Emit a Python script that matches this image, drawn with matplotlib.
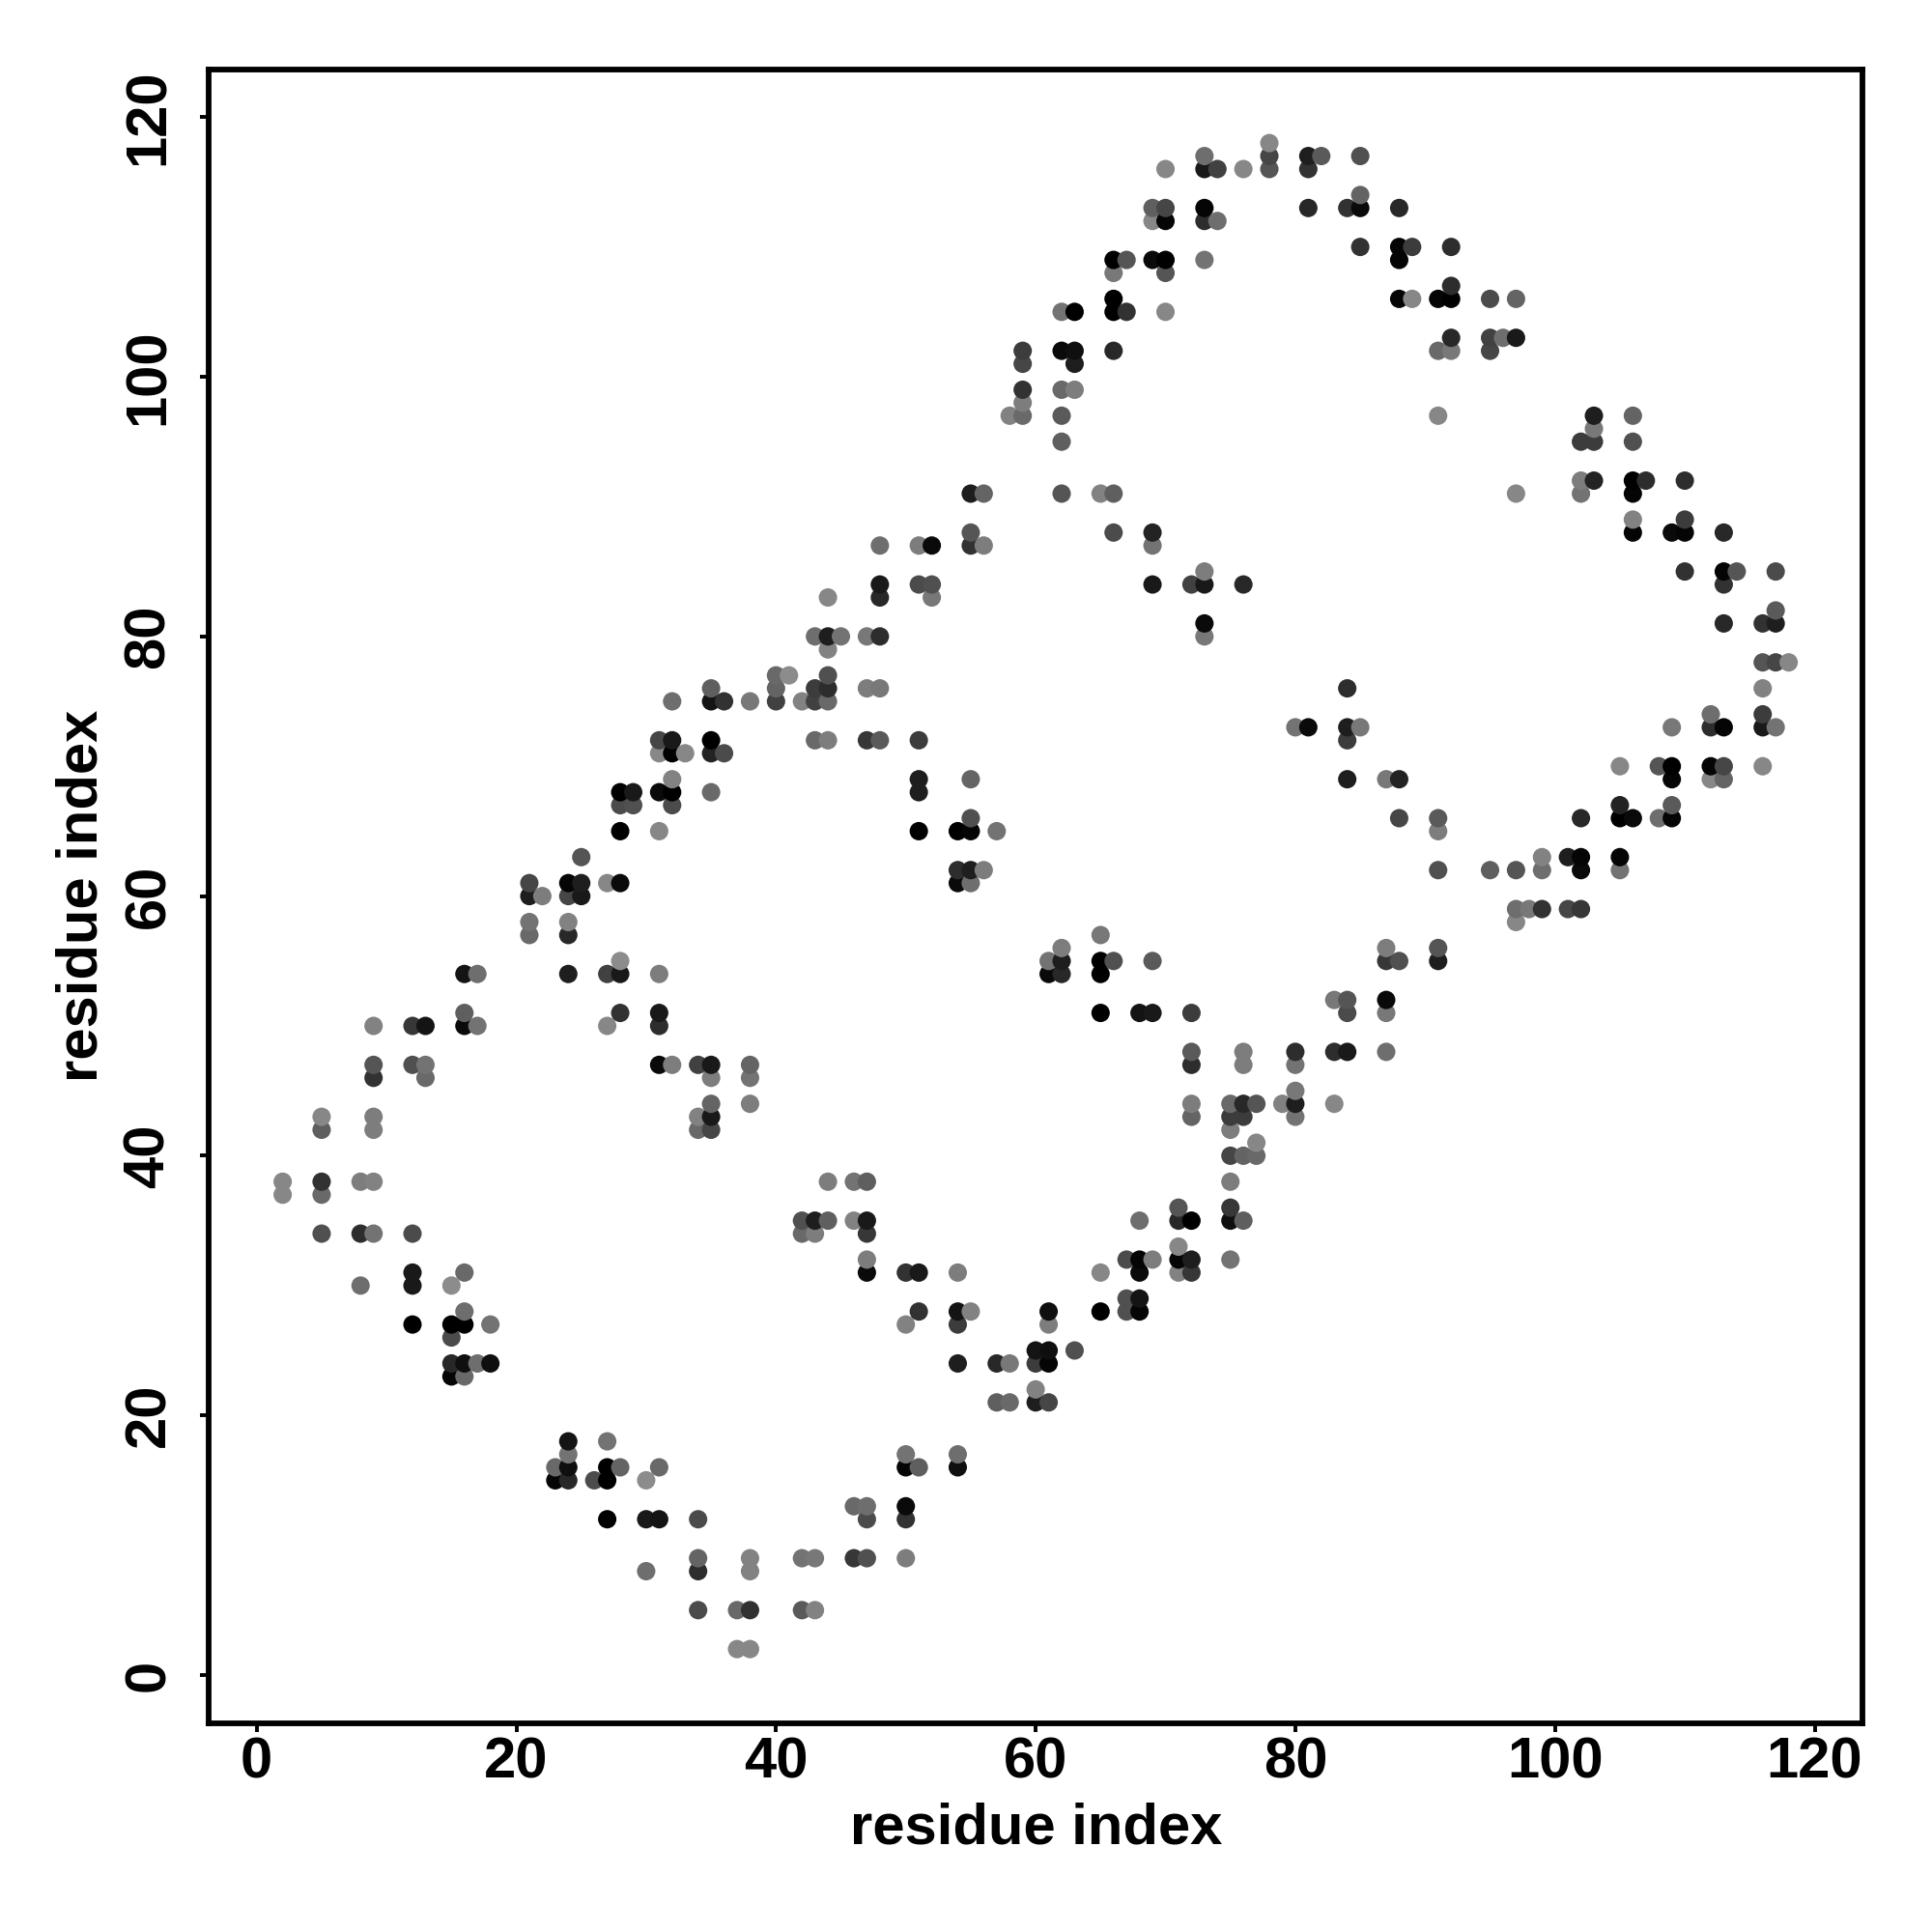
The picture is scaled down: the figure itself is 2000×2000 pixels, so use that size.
import itertools
import matplotlib
matplotlib.use('Agg')
import matplotlib.pyplot as plt
import numpy as np

plt.rcParams['font.family'] = ['Liberation Sans', 'DejaVu Sans']
plt.rcParams['font.weight'] = 'bold'

# contact map, one entry per row of the picture (same y)
row_y = [118, 117, 116, 114, 113, 112, 110, 109, 108, 107,
         106, 105, 103, 102, 101, 99, 98, 97, 96, 95,
         92, 91, 89, 88, 87, 85, 84, 83, 82, 81,
         80, 79, 78, 77, 76, 75, 74, 73, 72, 71,
         70, 69, 68, 67, 66, 65, 63, 62, 61, 60,
         59, 58, 57, 56, 55, 54, 52, 51, 50, 48,
         47, 46, 45, 44, 43, 42, 41, 40, 38, 37,
         36, 35, 34, 33, 32, 31, 30, 29, 28, 27,
         26, 25, 24, 23, 22, 21, 18, 17, 16, 15,
         13, 12, 9, 8, 5, 2]

row_x = [
    [78],
    [73, 78, 81, 82, 85],
    [70, 73, 74, 76, 78, 81],
    [85],
    [69, 70, 73, 81, 84, 85, 88],
    [69, 70, 73, 74],
    [85, 88, 89, 92],
    [66, 67, 69, 70, 73, 88],
    [66, 70],
    [92],
    [66, 88, 89, 91, 92, 95, 97],
    [62, 63, 66, 67, 70],
    [92, 95, 96, 97],
    [59, 62, 63, 66, 91, 92, 95],
    [59, 63],
    [59, 62, 63],
    [59],
    [58, 59, 62, 91, 103, 106],
    [103],
    [62, 102, 103, 106],
    [102, 103, 106, 107, 110],
    [55, 56, 62, 65, 66, 97, 102, 106],
    [106, 110],
    [55, 66, 69, 106, 109, 110, 113],
    [48, 51, 52, 55, 56, 69],
    [73, 110, 113, 114, 117],
    [48, 51, 52, 69, 72, 73, 76, 113],
    [44, 48, 52],
    [117],
    [73, 113, 116, 117],
    [43, 44, 45, 47, 48, 73],
    [44],
    [116, 117, 118],
    [40, 41, 44],
    [35, 40, 43, 44, 47, 48, 84, 116],
    [32, 35, 36, 38, 40, 42, 43, 44],
    [112, 116],
    [80, 81, 84, 85, 109, 112, 113, 116, 117],
    [31, 32, 35, 43, 44, 47, 48, 51, 84],
    [31, 32, 33, 35, 36],
    [105, 108, 109, 112, 113, 116],
    [32, 51, 55, 84, 87, 88, 109, 112, 113],
    [28, 29, 31, 32, 35, 51],
    [28, 29, 32, 105, 109],
    [55, 88, 91, 102, 105, 106, 108, 109],
    [28, 31, 51, 54, 55, 57, 91],
    [25, 99, 101, 102, 105],
    [54, 55, 56, 91, 95, 97, 99, 102, 105],
    [21, 24, 25, 27, 28, 54, 55],
    [21, 22, 24, 25],
    [97, 98, 99, 101, 102],
    [21, 24, 97],
    [21, 24, 65],
    [62, 87, 91],
    [28, 61, 62, 65, 66, 69, 87, 88, 91],
    [16, 17, 24, 27, 28, 31, 61, 62, 65],
    [83, 84, 87],
    [16, 28, 31, 65, 68, 69, 72, 84, 87],
    [9, 12, 13, 16, 17, 27, 31],
    [72, 76, 80, 83, 84, 87],
    [9, 12, 13, 31, 32, 34, 35, 38, 72, 76, 80],
    [9, 13, 35, 38],
    [80],
    [35, 38, 72, 75, 76, 77, 79, 80, 83],
    [5, 9, 34, 35, 72, 75, 76, 80],
    [5, 9, 34, 35, 75],
    [77],
    [75, 76, 77],
    [2, 5, 8, 9, 44, 46, 47, 75],
    [2, 5],
    [71, 75],
    [42, 43, 44, 46, 47, 68, 71, 72, 75, 76],
    [5, 8, 9, 12, 42, 43, 47],
    [71],
    [47, 67, 68, 69, 71, 72, 75],
    [12, 16, 47, 50, 51, 54, 65, 68, 71, 72],
    [8, 12, 15],
    [67, 68],
    [16, 51, 54, 55, 61, 65, 67, 68],
    [12, 15, 16, 18, 50, 54, 61],
    [15],
    [60, 61, 63],
    [15, 16, 17, 18, 54, 57, 58, 60, 61],
    [15, 16],
    [60],
    [57, 58, 60, 61],
    [24, 27],
    [24, 50, 54],
    [23, 24, 27, 28, 31, 50, 51, 54],
    [23, 24, 26, 27, 30],
    [46, 47, 50],
    [27, 30, 31, 34, 47, 50],
    [34, 38, 42, 43, 46, 47, 50],
    [30, 34, 38],
    [34, 37, 38, 42, 43],
    [37, 38],
]

# grey level of each dot, 0-255
row_grey = [
    [135],
    [110, 70, 30, 90, 80],
    [135, 25, 65, 135, 85, 50],
    [100],
    [95, 70, 5, 40, 50, 10, 40],
    [135, 5, 45, 110],
    [50, 5, 60, 45],
    [0, 85, 10, 0, 115, 5],
    [120, 85],
    [45],
    [0, 5, 135, 5, 0, 75, 100],
    [115, 0, 0, 50, 135],
    [40, 65, 110, 25],
    [60, 10, 15, 40, 105, 120, 70],
    [70, 30],
    [50, 105, 125],
    [125],
    [130, 105, 90, 135, 30, 100],
    [120],
    [95, 60, 60, 80],
    [125, 35, 0, 45, 45],
    [30, 100, 85, 130, 95, 135, 115, 5],
    [130, 60],
    [85, 75, 35, 5, 10, 5, 40],
    [110, 125, 10, 50, 125, 115],
    [125, 50, 5, 85, 75],
    [25, 75, 80, 25, 65, 25, 40, 50],
    [135, 40, 120],
    [90],
    [10, 40, 50, 30],
    [110, 30, 115, 120, 45, 120],
    [130],
    [85, 70, 135],
    [105, 140, 80],
    [95, 100, 60, 45, 125, 120, 45, 130],
    [110, 20, 50, 120, 65, 130, 65, 105],
    [110, 60],
    [115, 10, 30, 120, 120, 45, 5, 25, 115],
    [70, 25, 0, 105, 125, 55, 90, 60, 60],
    [135, 0, 135, 35, 75],
    [135, 85, 0, 5, 70, 135],
    [130, 30, 100, 30, 120, 35, 5, 135, 100],
    [0, 25, 10, 0, 105, 30],
    [75, 80, 75, 35, 90],
    [80, 70, 90, 40, 0, 10, 110, 5],
    [0, 135, 0, 0, 5, 115, 125],
    [85, 130, 30, 5, 5],
    [45, 30, 125, 80, 95, 85, 110, 10, 115],
    [70, 5, 30, 135, 10, 10, 110],
    [30, 125, 70, 25],
    [110, 120, 50, 70, 55],
    [115, 130, 135],
    [105, 40, 120],
    [125, 125, 85],
    [140, 115, 30, 0, 80, 90, 55, 80, 30],
    [20, 110, 30, 65, 25, 125, 10, 40, 0],
    [120, 85, 10],
    [95, 50, 25, 0, 20, 25, 60, 75, 120],
    [130, 55, 20, 10, 115, 135, 45],
    [90, 125, 45, 45, 25, 110],
    [85, 80, 115, 10, 125, 65, 25, 100, 45, 125, 115],
    [50, 105, 125, 115],
    [120],
    [100, 125, 125, 105, 40, 85, 130, 30, 135],
    [135, 125, 130, 25, 100, 60, 60, 115],
    [95, 125, 105, 70, 125],
    [135],
    [70, 100, 105],
    [135, 50, 125, 130, 125, 115, 95, 125],
    [135, 105],
    [85, 55],
    [80, 30, 95, 130, 25, 110, 40, 0, 15, 95],
    [80, 45, 115, 75, 105, 125, 55],
    [135],
    [125, 75, 5, 125, 5, 30, 115],
    [25, 105, 10, 50, 25, 125, 135, 10, 130, 55],
    [110, 25, 140],
    [80, 20],
    [110, 50, 20, 130, 15, 0, 80, 5],
    [0, 0, 0, 115, 130, 60, 125],
    [75],
    [20, 15, 80],
    [40, 15, 110, 15, 30, 40, 120, 60, 5],
    [5, 105],
    [130],
    [95, 105, 30, 70],
    [20, 115],
    [115, 115, 110],
    [105, 15, 0, 100, 105, 5, 95, 15],
    [5, 40, 75, 0, 140],
    [105, 110, 10],
    [0, 25, 20, 75, 75, 50],
    [100, 130, 115, 120, 55, 80, 125],
    [110, 45, 130],
    [75, 105, 50, 90, 130],
    [135, 135],
]

x_ticks = [0, 20, 40, 60, 80, 100, 120]
y_ticks = [0, 20, 40, 60, 80, 100, 120]

x = np.array(list(itertools.chain.from_iterable(row_x)))
y = np.repeat(row_y, [len(r) for r in row_x])
grey = np.array(list(itertools.chain.from_iterable(row_grey))) / 255

# later residues sit on top in the original
order = np.lexsort((y, x))

fig = plt.figure(figsize=(10, 10), dpi=200)
ax = fig.add_axes([216/2000, 216/2000, 1712.5/2000, 1712.5/2000])
ax.scatter(x[order], y[order], s=47, c=grey[order], cmap='gray', vmin=0, vmax=1, linewidths=0, clip_on=False)

ax.set_xlim(-3.70, 123.72)
ax.set_ylim(-3.72, 123.70)
ax.set_xticks(x_ticks)
ax.set_yticks(y_ticks)
for s in ax.spines.values():
    s.set_linewidth(2.1)
ax.tick_params(length=3.2, width=1.4, labelsize=21.5)
ax.tick_params(axis='x', pad=1.5)
ax.tick_params(axis='y', pad=9)
for t in ax.get_yticklabels():
    t.set_rotation(90)
    t.set_va('center')

ax.set_xlabel('residue index', fontsize=21.5, fontweight='bold')
ax.set_ylabel('residue index', fontsize=21.5, fontweight='bold')
ax.xaxis.set_label_coords(0.5, -0.0475)
ax.yaxis.set_label_coords(-0.0606, 0.5)

plt.savefig('out.png', dpi=200)
